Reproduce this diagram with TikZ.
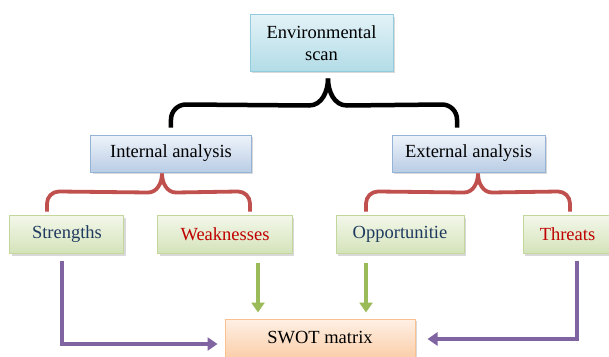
\documentclass[tikz,border=0pt]{standalone}
\usepackage{fontspec}
\setmainfont{Liberation Serif}
\usetikzlibrary{arrows.meta, positioning, shadows}

\definecolor{scanline}{HTML}{93CDDD}
\definecolor{scantop}{HTML}{E2F2F7}
\definecolor{scanbottom}{HTML}{B3DCE7}
\definecolor{analysisline}{HTML}{95B3D7}
\definecolor{analysistop}{HTML}{EEF3FA}
\definecolor{analysisbottom}{HTML}{B9CDE5}
\definecolor{factorline}{HTML}{C3D69B}
\definecolor{factortop}{HTML}{F3F7EA}
\definecolor{factorbottom}{HTML}{D4E3B9}
\definecolor{matrixline}{HTML}{FAC090}
\definecolor{matrixtop}{HTML}{FEF0E5}
\definecolor{matrixbottom}{HTML}{FBCFAA}
\definecolor{bracered}{HTML}{C0504D}
\definecolor{arrowpurple}{HTML}{8064A2}
\definecolor{arrowgreen}{HTML}{9BBB59}
\definecolor{goodtext}{HTML}{1F3A5F}
\definecolor{badtext}{HTML}{C00000}

\tikzstyle{box} = [rectangle, line width=1pt, text centered, minimum height=38pt, drop shadow={shadow xshift=2pt, shadow yshift=-2pt, opacity=0.3}]
\tikzstyle{scanbox} = [box, draw=scanline, top color=scantop, bottom color=scanbottom, minimum width=143pt, minimum height=56pt, align=center]
\tikzstyle{analysisbox} = [box, draw=analysisline, top color=analysistop, bottom color=analysisbottom, minimum height=37pt]
\tikzstyle{factorbox} = [box, draw=factorline, top color=factortop, bottom color=factorbottom]
\tikzstyle{matrixbox} = [box, draw=matrixline, top color=matrixtop, bottom color=matrixbottom, minimum width=190pt]
\tikzstyle{blackbrace} = [line width=4.5pt]
\tikzstyle{redbrace} = [line width=3.8pt, draw=bracered]
\tikzstyle{purplearrow} = [line width=4pt, draw=arrowpurple, -{Triangle[length=10pt,width=13pt]}]
\tikzstyle{greenarrow} = [line width=4pt, draw=arrowgreen, -{Triangle[length=10pt,width=13pt]}]

\begin{document}
\begin{tikzpicture}[node distance=110pt, font=\fontsize{18.5pt}{22pt}\selectfont]

    \useasboundingbox (-321.5pt,43pt) rectangle (287.5pt,-313pt);
    \clip (-321.5pt,43pt) rectangle (287.5pt,-313pt);

    % Scan
    \node (env_scan) [scanbox] {Environmental\\scan};

    % Analysis
    \node (internal) [analysisbox, minimum width=160pt, below of=env_scan, xshift=-150.5pt, yshift=-0.5pt] {Internal analysis};
    \node (external) [analysisbox, minimum width=153pt, below of=env_scan, xshift=147pt, yshift=-0.5pt] {External analysis};

    % Factors
    \node (strengths) [factorbox, minimum width=114pt, below of=internal, xshift=-104pt, yshift=29pt] {\color{goodtext}Strengths};
    \node (weaknesses) [factorbox, minimum width=134pt, below of=internal, xshift=54pt, yshift=29pt] {\color{badtext}Weaknesses};
    \node (opportunities) [factorbox, minimum width=128pt, below of=external, xshift=-68.5pt, yshift=29pt] {\color{goodtext}Opportunitie};
    \node (threats) [factorbox, minimum width=89pt, below of=external, xshift=99pt, yshift=29pt] {\color{badtext}Threats};

    % Matrix
    \node (swot) [matrixbox, below of=weaknesses, xshift=95pt, yshift=6.5pt] {SWOT matrix};

    % ==== Braces
    \coordinate (scan_tip) at ([xshift=6.5pt,yshift=-7pt]env_scan.south);
    \coordinate (internal_tip) at ([xshift=-9pt,yshift=-1pt]internal.south);
    \coordinate (external_tip) at ([xshift=9.5pt,yshift=-1pt]external.south);

    \draw [blackbrace] ([yshift=7pt]internal.north) -- ++(0,8pt) to[out=90,in=180] ++(15pt,15pt) -- ([xshift=-19pt,yshift=-27pt]scan_tip) to[out=0,in=-90] (scan_tip);
    \draw [blackbrace] ([xshift=-11.5pt,yshift=7pt]external.north) -- ++(0,8pt) to[out=90,in=0] ++(-15pt,15pt) -- ([xshift=19pt,yshift=-27pt]scan_tip) to[out=180,in=-90] (scan_tip);

    \draw [redbrace] ([xshift=-20pt,yshift=3.5pt]strengths.north) -- ++(0,8pt) to[out=90,in=180] ++(12pt,12pt) -- ([xshift=-14pt,yshift=-19pt]internal_tip) to[out=0,in=-90] (internal_tip);
    \draw [redbrace] ([xshift=25pt,yshift=3.5pt]weaknesses.north) -- ++(0,8pt) to[out=90,in=0] ++(-12pt,12pt) -- ([xshift=14pt,yshift=-19pt]internal_tip) to[out=180,in=-90] (internal_tip);

    \draw [redbrace] ([xshift=-34pt,yshift=3.5pt]opportunities.north) -- ++(0,8pt) to[out=90,in=180] ++(12pt,12pt) -- ([xshift=-14pt,yshift=-19pt]external_tip) to[out=0,in=-90] (external_tip);
    \draw [redbrace] ([xshift=2.5pt,yshift=3.5pt]threats.north) -- ++(0,8pt) to[out=90,in=0] ++(-12pt,12pt) -- ([xshift=14pt,yshift=-19pt]external_tip) to[out=180,in=-90] (external_tip);

    % ==== Arrows
    \draw [purplearrow] ([xshift=-5pt,yshift=-6.5pt]strengths.south) |- ([xshift=-7pt,yshift=-6pt]swot.west);
    \draw [greenarrow] ([xshift=33pt,yshift=-8.5pt]weaknesses.south) -- ([xshift=-62pt,yshift=6pt]swot.north);
    \draw [greenarrow] ([xshift=-34pt,yshift=-8.5pt]opportunities.south) -- ([xshift=46pt,yshift=6pt]swot.north);
    \draw [purplearrow] ([xshift=9.5pt,yshift=-6.5pt]threats.south) |- ([xshift=12pt,yshift=-1pt]swot.east);

\end{tikzpicture}
\end{document}
